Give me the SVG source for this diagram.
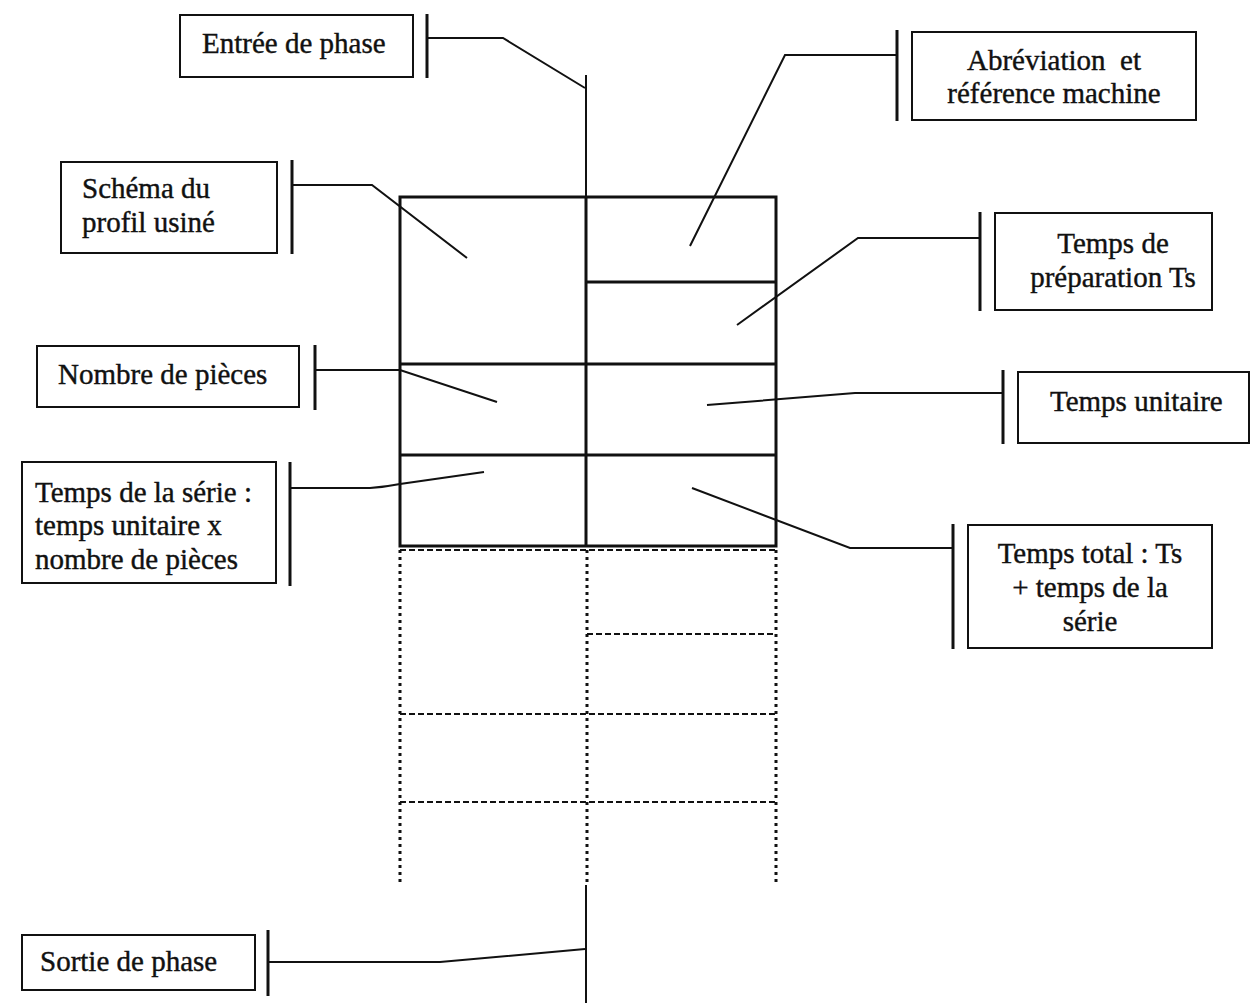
<svg xmlns="http://www.w3.org/2000/svg" width="1252" height="1003" viewBox="0 0 1252 1003">
<style>
.box{fill:#fff;stroke:#111;stroke-width:2}
.bar{stroke:#111;stroke-width:3;fill:none}
.con{stroke:#111;stroke-width:2;fill:none}
.tbl{stroke:#111;stroke-width:3;fill:none}
.dv{stroke:#111;stroke-width:3;fill:none;stroke-dasharray:3 4}
.dh{stroke:#111;stroke-width:2;fill:none;stroke-dasharray:6 3}
text{font-family:"Liberation Serif","Times New Roman",serif;font-size:29px;fill:#111;stroke:#111;stroke-width:0.4;white-space:pre}
.c{text-anchor:middle}
</style>
<rect width="1252" height="1003" fill="#fff"/>
<g id="table">
<rect class="tbl" x="400" y="197" width="376" height="349"/>
<line class="tbl" x1="586" y1="197" x2="586" y2="546"/>
<line class="tbl" x1="586" y1="282" x2="776" y2="282"/>
<line class="tbl" x1="400" y1="364" x2="776" y2="364"/>
<line class="tbl" x1="400" y1="455" x2="776" y2="455"/>
</g>
<g id="table-extension">
<line class="dh" x1="400" y1="550" x2="776" y2="550"/>
<line class="dv" x1="400" y1="550" x2="400" y2="885"/>
<line class="dv" x1="587" y1="550" x2="587" y2="885"/>
<line class="dv" x1="776" y1="550" x2="776" y2="885"/>
<line class="dh" x1="587" y1="634" x2="776" y2="634"/>
<line class="dh" x1="400" y1="714" x2="776" y2="714"/>
<line class="dh" x1="400" y1="802" x2="776" y2="802"/>
</g>
<g id="connectors">
<line class="con" x1="586" y1="75" x2="586" y2="197"/>
<line class="con" x1="586" y1="885" x2="586" y2="1003"/>
<polyline class="con" points="427,38 503,38 585,88"/>
<polyline class="con" points="897,55 785,55 690,246"/>
<polyline class="con" points="292,185 372,185 467,258"/>
<polyline class="con" points="980,238 858,238 737,325"/>
<polyline class="con" points="315,370 400,370 497,402"/>
<polyline class="con" points="1003,393 855,393 707,405"/>
<path class="con" d="M290,488 L370,488 Q385,487 400,484 L484,472"/>
<polyline class="con" points="953,548 850,548 692,488"/>
<path class="con" d="M268,962 L440,962 L585,949"/>
</g>
<g id="entree">
<rect class="box" x="180" y="15" width="233" height="62"/>
<line class="bar" x1="427" y1="14" x2="427" y2="78"/>
<text x="202" y="53">Entrée de phase</text>
</g>
<g id="abreviation">
<rect class="box" x="912" y="32" width="284" height="88"/>
<line class="bar" x1="897" y1="30" x2="897" y2="121"/>
<text class="c" x="1054" y="70">Abréviation  et</text>
<text class="c" x="1054" y="103">référence machine</text>
</g>
<g id="schema">
<rect class="box" x="61" y="162" width="216" height="91"/>
<line class="bar" x1="292" y1="160" x2="292" y2="254"/>
<text x="82" y="198">Schéma du</text>
<text x="82" y="232">profil usiné</text>
</g>
<g id="preparation">
<rect class="box" x="995" y="213" width="217" height="97"/>
<line class="bar" x1="980" y1="212" x2="980" y2="311"/>
<text class="c" x="1113" y="253">Temps de</text>
<text class="c" x="1113" y="287">préparation Ts</text>
</g>
<g id="nombre">
<rect class="box" x="37" y="346" width="262" height="61"/>
<line class="bar" x1="315" y1="345" x2="315" y2="410"/>
<text x="58" y="384">Nombre de pièces</text>
</g>
<g id="unitaire">
<rect class="box" x="1018" y="372" width="231" height="71"/>
<line class="bar" x1="1003" y1="370" x2="1003" y2="444"/>
<text x="1050" y="411">Temps unitaire</text>
</g>
<g id="serie">
<rect class="box" x="22" y="462" width="254" height="121"/>
<line class="bar" x1="290" y1="462" x2="290" y2="586"/>
<text x="35" y="502">Temps de la série :</text>
<text x="35" y="535">temps unitaire x</text>
<text x="35" y="569">nombre de pièces</text>
</g>
<g id="total">
<rect class="box" x="968" y="525" width="244" height="123"/>
<line class="bar" x1="953" y1="524" x2="953" y2="649"/>
<text class="c" x="1090" y="563">Temps total : Ts</text>
<text class="c" x="1090" y="597">+ temps de la</text>
<text class="c" x="1090" y="631">série</text>
</g>
<g id="sortie">
<rect class="box" x="22" y="935" width="233" height="55"/>
<line class="bar" x1="268" y1="930" x2="268" y2="996"/>
<text x="40" y="971">Sortie de phase</text>
</g>
</svg>
